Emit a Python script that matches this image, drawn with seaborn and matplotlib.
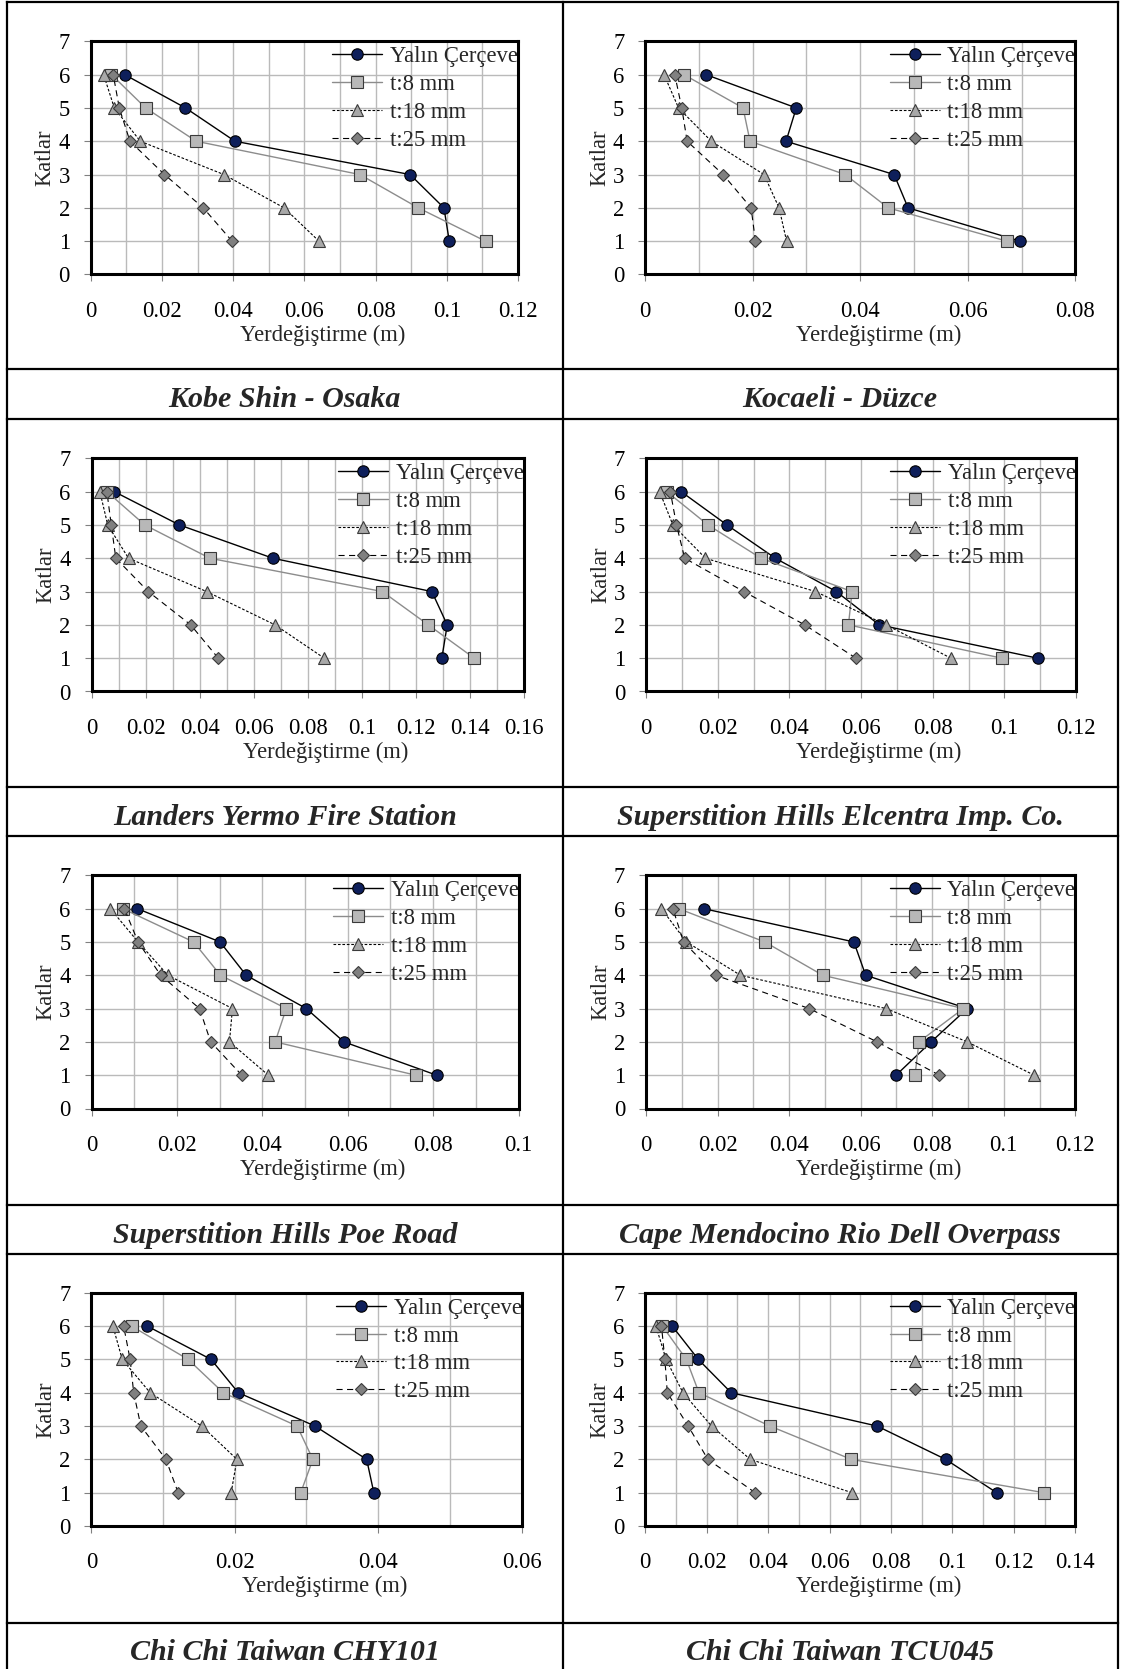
import numpy as np
import pandas as pd
import matplotlib
matplotlib.use("Agg")
import matplotlib.pyplot as plt
from matplotlib.lines import Line2D
from matplotlib.ticker import MultipleLocator, FuncFormatter
import seaborn as sns

# ---------------------------------------------------------------- data
floors = [1, 2, 3, 4, 5, 6]
series_labels = ["Yalın Çerçeve", "t:8 mm", "t:18 mm", "t:25 mm"]

kobe_yalin = [0.1007, 0.0992, 0.0897, 0.0405, 0.0266, 0.0095]
kobe_t8 = [0.1109, 0.0920, 0.0756, 0.0296, 0.0154, 0.0058]
kobe_t18 = [0.0641, 0.0543, 0.0374, 0.0139, 0.0066, 0.0036]
kobe_t25 = [0.0397, 0.0316, 0.0207, 0.0110, 0.0080, 0.0063]

kocaeli_yalin = [0.0698, 0.0489, 0.0463, 0.0262, 0.0281, 0.0113]
kocaeli_t8 = [0.0673, 0.0452, 0.0372, 0.0195, 0.0182, 0.0072]
kocaeli_t18 = [0.0263, 0.0249, 0.0221, 0.0123, 0.0062, 0.0035]
kocaeli_t25 = [0.0205, 0.0197, 0.0145, 0.0078, 0.0068, 0.0055]

landers_yalin = [0.1296, 0.1316, 0.1259, 0.0671, 0.0325, 0.0084]
landers_t8 = [0.1416, 0.1246, 0.1076, 0.0438, 0.0197, 0.0057]
landers_t18 = [0.0861, 0.0679, 0.0426, 0.0137, 0.0060, 0.0031]
landers_t25 = [0.0469, 0.0367, 0.0210, 0.0090, 0.0073, 0.0057]

elcentra_yalin = [0.1093, 0.0651, 0.0531, 0.0361, 0.0226, 0.0098]
elcentra_t8 = [0.0993, 0.0565, 0.0575, 0.0321, 0.0173, 0.0058]
elcentra_t18 = [0.0851, 0.0670, 0.0473, 0.0166, 0.0075, 0.0038]
elcentra_t25 = [0.0586, 0.0443, 0.0273, 0.0108, 0.0085, 0.0068]

poe_yalin = [0.0808, 0.0591, 0.0503, 0.0362, 0.0301, 0.0107]
poe_t8 = [0.0759, 0.0430, 0.0456, 0.0302, 0.0239, 0.0073]
poe_t18 = [0.0414, 0.0323, 0.0330, 0.0179, 0.0109, 0.0044]
poe_t25 = [0.0352, 0.0279, 0.0253, 0.0162, 0.0109, 0.0077]

cape_yalin = [0.0699, 0.0797, 0.0898, 0.0614, 0.0581, 0.0161]
cape_t8 = [0.0752, 0.0763, 0.0887, 0.0494, 0.0332, 0.0091]
cape_t18 = [0.1085, 0.0898, 0.0671, 0.0264, 0.0113, 0.0043]
cape_t25 = [0.0820, 0.0646, 0.0456, 0.0195, 0.0105, 0.0075]

chy_yalin = [0.0394, 0.0384, 0.0312, 0.0205, 0.0167, 0.0078]
chy_t8 = [0.0292, 0.0309, 0.0287, 0.0184, 0.0135, 0.0056]
chy_t18 = [0.0195, 0.0203, 0.0154, 0.0082, 0.0043, 0.0030]
chy_t25 = [0.0121, 0.0104, 0.0069, 0.0059, 0.0054, 0.0045]

tcu_yalin = [0.1144, 0.0978, 0.0755, 0.0280, 0.0173, 0.0088]
tcu_t8 = [0.1298, 0.0671, 0.0406, 0.0175, 0.0134, 0.0056]
tcu_t18 = [0.0673, 0.0342, 0.0216, 0.0123, 0.0068, 0.0035]
tcu_t25 = [0.0358, 0.0204, 0.0140, 0.0072, 0.0064, 0.0053]

captions = [
    "Kobe Shin - Osaka", "Kocaeli - Düzce",
    "Landers Yermo Fire Station", "Superstition Hills Elcentra Imp. Co.",
    "Superstition Hills Poe Road", "Cape Mendocino Rio Dell Overpass",
    "Chi Chi Taiwan CHY101", "Chi Chi Taiwan TCU045",
]
x_limits = [0.12, 0.08, 0.16, 0.12, 0.10, 0.12, 0.06, 0.14]
panel_series = [
    (kobe_yalin, kobe_t8, kobe_t18, kobe_t25),
    (kocaeli_yalin, kocaeli_t8, kocaeli_t18, kocaeli_t25),
    (landers_yalin, landers_t8, landers_t18, landers_t25),
    (elcentra_yalin, elcentra_t8, elcentra_t18, elcentra_t25),
    (poe_yalin, poe_t8, poe_t18, poe_t25),
    (cape_yalin, cape_t8, cape_t18, cape_t25),
    (chy_yalin, chy_t8, chy_t18, chy_t25),
    (tcu_yalin, tcu_t8, tcu_t18, tcu_t25),
]

# ---------------------------------------------------------------- style
sns.set_style("white")
plt.rcParams["font.family"] = ["Liberation Serif", "DejaVu Serif"]

W, H, DPI = 1123, 1669, 100
fig = plt.figure(figsize=(W / DPI, H / DPI), dpi=DPI)
fig.patch.set_facecolor("white")

FS = 16.3
series_styles = [
    dict(color="black", linewidth=1.0, linestyle="-", marker="o", markersize=8.2,
         markerfacecolor="#0E1F5B", markeredgecolor="black", markeredgewidth=0.8),
    dict(color="#8C8C8C", linewidth=1.0, linestyle="-", marker="s", markersize=8.0,
         markerfacecolor="#B8B8B8", markeredgecolor="#3A3A3A", markeredgewidth=0.8),
    dict(color="black", linewidth=0.8, linestyle=(0, (2.4, 1.6)), marker="^", markersize=8.6,
         markerfacecolor="#A8A8A8", markeredgecolor="#3A3A3A", markeredgewidth=0.8),
    dict(color="black", linewidth=0.8, linestyle=(0, (5.5, 4.0)), marker="D", markersize=6.4,
         markerfacecolor="#808080", markeredgecolor="#3A3A3A", markeredgewidth=0.8),
]

# layout in pixels
row_tops = [2.0, 419.0, 836.0, 1253.5]
caption_tops = [369.0, 787.5, 1205.0, 1622.5]
col_left = [6.7, 563.0]
col_right = [563.0, 1117.5]
axes_x = [(90.8, 518.0), (645.2, 1075.3), (91.5, 524.0), (646.0, 1076.0),
          (91.5, 518.6), (646.0, 1075.3), (91.4, 521.5), (645.2, 1075.3)]


def fx(px):
    return px / W


def fy(py):
    return 1.0 - py / H


def tick_fmt(v, pos):
    return f"{round(v, 6):g}"


for idx in range(8):
    r, c = divmod(idx, 2)
    x0, x1 = axes_x[idx]
    top = row_tops[r] + 39.3
    bot = row_tops[r] + 272.5
    ax = fig.add_axes([fx(x0), fy(bot), fx(x1 - x0), (bot - top) / H])
    ax.set_facecolor("white")

    for k, vals in enumerate(panel_series[idx]):
        df = pd.DataFrame({"disp": vals, "kat": floors})
        sns.lineplot(data=df, x="disp", y="kat", sort=False, estimator=None, ax=ax,
                     label=series_labels[k], zorder=3 + k, legend=False,
                     **series_styles[k])

    xmax = x_limits[idx]
    ax.set_xlim(0, xmax)
    ax.set_ylim(0, 7)
    ax.xaxis.set_major_locator(MultipleLocator(0.02))
    ax.xaxis.set_minor_locator(MultipleLocator(0.01))
    ax.yaxis.set_major_locator(MultipleLocator(1))
    ax.xaxis.set_major_formatter(FuncFormatter(tick_fmt))
    ax.grid(True, which="both", color="#BABABA", linewidth=1.0)
    ax.set_axisbelow(True)
    for sp in ax.spines.values():
        sp.set_visible(True)
        sp.set_linewidth(2.2)
        sp.set_color("black")
        sp.set_zorder(10)
    ax.tick_params(axis="both", which="major", direction="out", length=5.0, width=0.8,
                   color="#808080", labelsize=FS, labelcolor="black")
    ax.tick_params(axis="x", which="major", pad=14)
    ax.tick_params(axis="y", which="major", pad=10)
    ax.tick_params(axis="both", which="minor", length=0)
    ax.tick_params(bottom=True, left=True, top=False, right=False)

    ax.set_xlabel("Yerdeğiştirme (m)", fontsize=FS, labelpad=2)
    ax.xaxis.label.set_x(0.5 + 18.0 / (x1 - x0))
    ax.set_ylabel("Katlar", fontsize=FS, labelpad=2)

    handles, labels = ax.get_legend_handles_labels()
    ax.legend(handles, labels, loc="upper right",
              bbox_to_anchor=(1.0, 1.0 - 5.0 / (bot - top)),
              frameon=False, borderpad=0, borderaxespad=0,
              handlelength=2.2, handletextpad=0.35, labelspacing=0.3,
              fontsize=FS)

    # caption below the chart cell
    cap_top = caption_tops[r]
    fig.text(fx((col_left[c] + col_right[c]) / 2), fy(cap_top + 37.7), captions[idx],
             ha="center", va="baseline", fontsize=21.6, fontweight="bold",
             fontstyle="italic")

# table rules
border_kw = dict(color="black", linewidth=1.6, solid_capstyle="projecting")
for yv in row_tops + caption_tops:
    fig.add_artist(Line2D([fx(6.7), fx(1117.5)], [fy(yv), fy(yv)], **border_kw))
for xv in (6.7, 563.0, 1117.5):
    fig.add_artist(Line2D([fx(xv), fx(xv)], [fy(2.0), fy(H + 5)], **border_kw))

fig.savefig("out.png", dpi=DPI, facecolor="white")
